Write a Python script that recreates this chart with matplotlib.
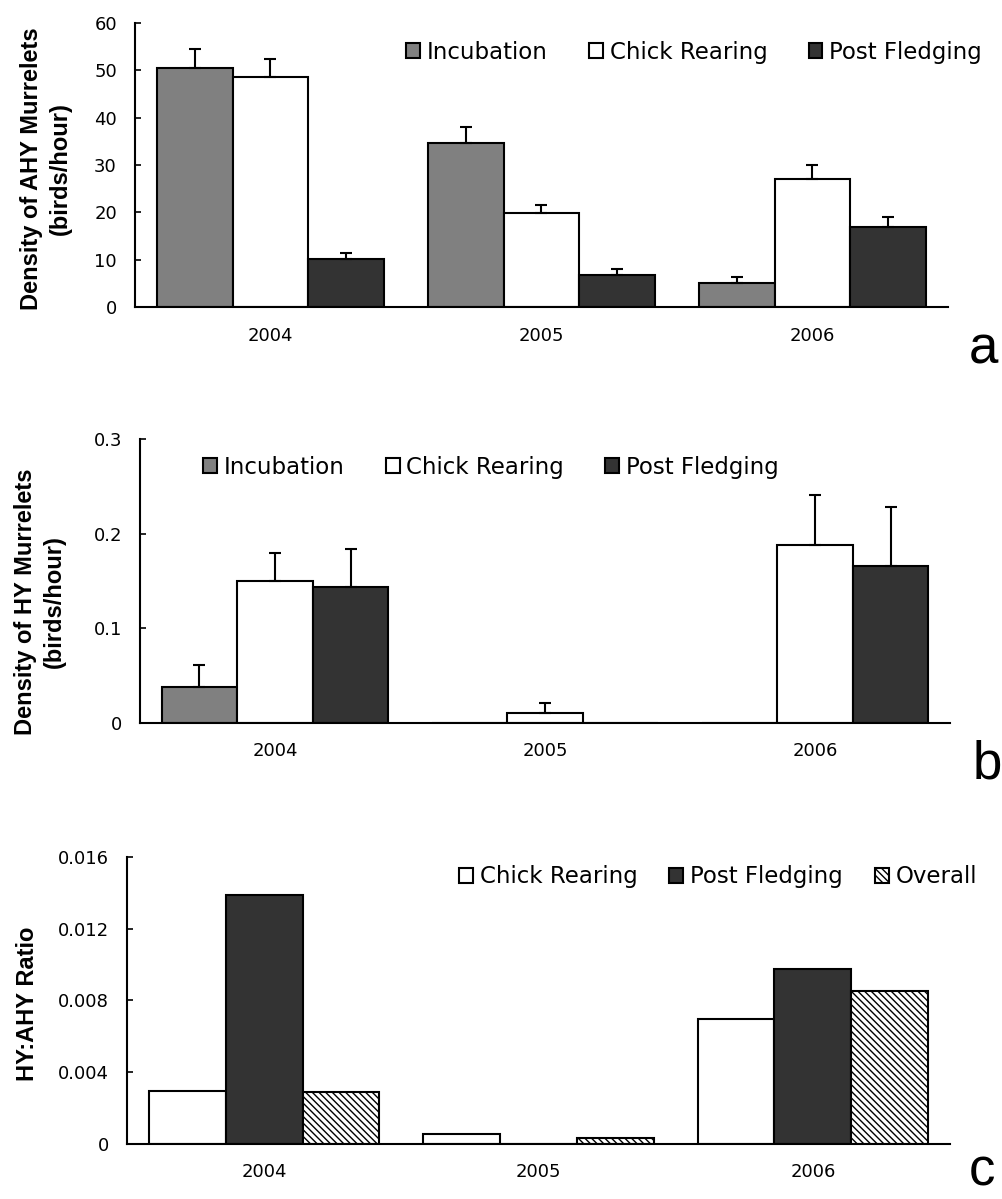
import numpy as np
import matplotlib
matplotlib.use("Agg")
import matplotlib.pyplot as plt

plt.rcParams['font.family'] = ['DejaVu Sans']
plt.rcParams['hatch.linewidth'] = 1.0

years = ['2004', '2005', '2006']

# panel a: density of AHY murrelets (birds/hour), upper error bars
ahy_inc = [50.6, 34.6, 5.1]
ahy_inc_err = [3.9, 3.4, 1.2]
ahy_chick = [48.5, 19.9, 27.1]
ahy_chick_err = [3.8, 1.7, 2.9]
ahy_post = [10.1, 6.7, 16.9]
ahy_post_err = [1.4, 1.4, 2.1]

# panel b: density of HY murrelets (birds/hour)
hy_inc = [0.038, 0.0, 0.0]
hy_inc_err = [0.023, 0.0, 0.0]
hy_chick = [0.150, 0.0103, 0.188]
hy_chick_err = [0.030, 0.011, 0.053]
hy_post = [0.144, 0.0, 0.166]
hy_post_err = [0.040, 0.0, 0.062]

# panel c: HY:AHY ratio
ratio_chick = [0.00298, 0.00056, 0.00697]
ratio_post = [0.01387, 0.0, 0.00977]
ratio_overall = [0.00287, 0.00033, 0.00853]

a_ticks = [0, 10, 20, 30, 40, 50, 60]
a_ticklabels = ['0', '10', '20', '30', '40', '50', '60']
b_ticks = [0, 0.1, 0.2, 0.3]
b_ticklabels = ['0', '0.1', '0.2', '0.3']
c_ticks = [0, 0.004, 0.008, 0.012, 0.016]
c_ticklabels = ['0', '0.004', '0.008', '0.012', '0.016']

GRAY = '#808080'
DARK = '#333333'
W = 0.28

fig = plt.figure(figsize=(10.02, 11.99), dpi=100)


def style_axes(ax, ticks, ticklabels):
    for s in ['top', 'right']:
        ax.spines[s].set_visible(False)
    ax.spines['left'].set_linewidth(1.5)
    ax.spines['bottom'].set_linewidth(1.5)
    ax.set_xlim(-0.5, 2.5)
    ax.set_ylim(ticks[0], ticks[-1])
    ax.set_yticks(ticks)
    ax.set_yticklabels(ticklabels)
    ax.set_xticks(range(len(years)))
    ax.set_xticklabels(years)
    ax.tick_params(axis='y', direction='in', length=4, width=1.2, pad=13, labelsize=13)
    ax.tick_params(axis='x', length=0, pad=14, labelsize=13)


def draw_bars(ax, series, errs):
    x = np.arange(len(years))
    for i, (vals, color, hatch, label) in enumerate(series):
        pos = x + (i - 1) * W
        ax.bar(pos, vals, W, color=color, edgecolor='black', linewidth=1.5,
               hatch=hatch, label=label, zorder=2)
        if errs is not None:
            e = np.array(errs[i])
            v = np.array(vals)
            m = v > 0
            ax.errorbar(pos[m], v[m], yerr=[np.zeros(m.sum()), e[m]], fmt='none',
                        ecolor='black', elinewidth=1.5, capsize=4, capthick=1.5, zorder=3)


def add_legend(ax, anchor, loc, colsp):
    ax.legend(loc=loc, bbox_to_anchor=anchor, bbox_transform=fig.transFigure,
              ncol=3, frameon=False, fontsize=16.5, handlelength=0.6, handleheight=0.6,
              handletextpad=0.3, columnspacing=colsp, borderpad=0, borderaxespad=0)


# panel a
ax1 = fig.add_axes([0.1347, 0.7439, 0.8114, 0.2369])
draw_bars(ax1, [(ahy_inc, GRAY, None, 'Incubation'),
                (ahy_chick, 'white', None, 'Chick Rearing'),
                (ahy_post, DARK, None, 'Post Fledging')],
          [ahy_inc_err, ahy_chick_err, ahy_post_err])
style_axes(ax1, a_ticks, a_ticklabels)
add_legend(ax1, (0.980, 0.9566), 'center right', 1.8)
fig.text(0.046, 0.859, 'Density of AHY Murrelets\n(birds/hour)', rotation=90,
         ha='center', va='center', fontsize=17, fontweight='bold',
         family='Liberation Sans', linespacing=1.3, multialignment='center')
fig.text(0.981, 0.6972, 'a', ha='center', va='baseline', fontsize=38, family='Liberation Sans')

# panel b
ax2 = fig.add_axes([0.1397, 0.3970, 0.8084, 0.2369])
draw_bars(ax2, [(hy_inc, GRAY, None, 'Incubation'),
                (hy_chick, 'white', None, 'Chick Rearing'),
                (hy_post, DARK, None, 'Post Fledging')],
          [hy_inc_err, hy_chick_err, hy_post_err])
style_axes(ax2, b_ticks, b_ticklabels)
add_legend(ax2, (0.2026, 0.6105), 'center left', 1.8)
fig.text(0.040, 0.498, 'Density of HY Murrelets\n(birds/hour)', rotation=90,
         ha='center', va='center', fontsize=17, fontweight='bold',
         family='Liberation Sans', linespacing=1.3, multialignment='center')
fig.text(0.985, 0.351, 'b', ha='center', va='baseline', fontsize=38, family='Liberation Sans')

# panel c
ax3 = fig.add_axes([0.1267, 0.0459, 0.8214, 0.2394])
draw_bars(ax3, [(ratio_chick, 'white', None, 'Chick Rearing'),
                (ratio_post, DARK, None, 'Post Fledging'),
                (ratio_overall, 'white', '\\\\\\\\\\', 'Overall')],
          None)
style_axes(ax3, c_ticks, c_ticklabels)
add_legend(ax3, (0.975, 0.2686), 'center right', 1.4)
fig.text(0.027, 0.163, 'HY:AHY Ratio', rotation=90, ha='center', va='center',
         fontsize=17, fontweight='bold', family='Liberation Sans')
fig.text(0.980, 0.011, 'c', ha='center', va='baseline', fontsize=38, family='Liberation Sans')

fig.savefig('out.png', dpi=100)
